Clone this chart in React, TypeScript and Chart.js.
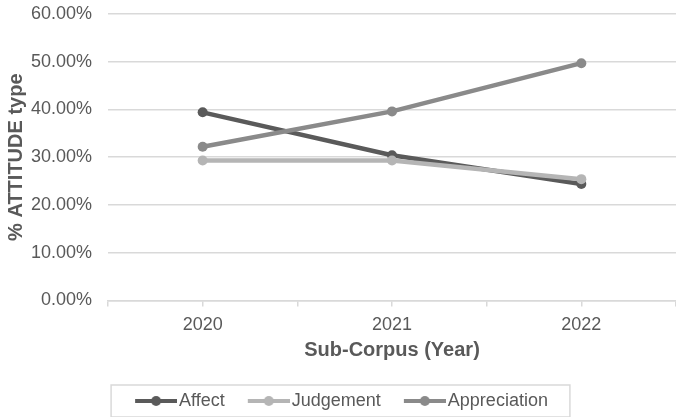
import React, { useEffect, useRef } from "react";
import { Chart, registerables } from "chart.js";

Chart.register(...registerables);

const years = ["2020", "2021", "2022"];
const affect = [39.4, 30.4, 24.4];
const judgement = [29.3, 29.3, 25.4];
const appreciation = [32.2, 39.6, 49.7];
const yTicks = [0, 10, 20, 30, 40, 50, 60];

const seriesNames = ["Affect", "Judgement", "Appreciation"];
const seriesColors = ["#5a5a5a", "#b5b5b5", "#8a8a8a"];

const FONT = "'Liberation Sans', Arial, sans-serif";
const TEXT = "#595959";
const GRID = "#d9d9d9";

function legendSwatch(color: string): HTMLCanvasElement {
  const c = document.createElement("canvas");
  c.width = 48;
  c.height = 14;
  const ctx = c.getContext("2d")!;
  ctx.strokeStyle = color;
  ctx.lineWidth = 4;
  ctx.beginPath();
  ctx.moveTo(6, 7);
  ctx.lineTo(48, 7);
  ctx.stroke();
  ctx.fillStyle = color;
  ctx.beginPath();
  ctx.arc(27, 7, 5, 0, Math.PI * 2);
  ctx.fill();
  return c;
}

const legendBoxPlugin = {
  id: "legendBox",
  afterDraw(chart: any) {
    const lg = chart.legend;
    if (!lg || !lg.legendHitBoxes || !lg.legendHitBoxes.length) return;
    const hb = lg.legendHitBoxes;
    const first = hb[0];
    const last = hb[hb.length - 1];
    const cy = first.top + first.height / 2;
    const left = first.left - 25;
    const right = last.left + last.width + 22;
    const ctx = chart.ctx;
    ctx.save();
    ctx.strokeStyle = GRID;
    ctx.lineWidth = 1.5;
    ctx.strokeRect(left, cy - 16, right - left, 32);
    ctx.restore();
  },
};

export default function App() {
  const ref = useRef<HTMLCanvasElement>(null);

  useEffect(() => {
    if (!ref.current) return;
    const series = [affect, judgement, appreciation];
    const swatches = seriesColors.map(legendSwatch);
    const chart = new Chart(ref.current, {
      type: "line",
      data: {
        datasets: series.map((vals, si) => ({
          label: seriesNames[si],
          data: vals.map((v, i) => ({ x: i, y: v })),
          borderColor: seriesColors[si],
          backgroundColor: seriesColors[si],
          pointBackgroundColor: seriesColors[si],
          pointBorderColor: seriesColors[si],
          borderWidth: 4.5,
          pointRadius: 5,
          pointBorderWidth: 0,
          tension: 0,
          order: 3 - si,
        })),
      },
      options: {
        responsive: false,
        animation: false,
        layout: { padding: { top: 14, left: 0, right: 0, bottom: -3 } },
        plugins: {
          tooltip: { enabled: false },
          legend: {
            position: "bottom",
            labels: {
              usePointStyle: true,
              pointStyleWidth: 34,
              padding: 24,
              color: TEXT,
              font: { family: FONT, size: 18 },
              generateLabels: (ch: any) => {
                const items = Chart.defaults.plugins.legend.labels.generateLabels(ch);
                return items
                  .sort((a: any, b: any) => a.datasetIndex - b.datasetIndex)
                  .map((it: any) => ({ ...it, pointStyle: swatches[it.datasetIndex] }));
              },
            },
          },
        },
        scales: {
          x: {
            type: "linear",
            min: -0.5,
            max: 2.5,
            border: { display: true, color: GRID, width: 1.5 },
            grid: {
              drawOnChartArea: false,
              drawTicks: true,
              tickLength: 6,
              color: GRID,
              lineWidth: 1.5,
            },
            ticks: {
              stepSize: 0.5,
              autoSkip: false,
              maxRotation: 0,
              padding: 8,
              color: TEXT,
              font: { family: FONT, size: 18 },
              callback: (v: any) => {
                const n = Number(v);
                return Number.isInteger(n) && years[n] ? years[n] : "";
              },
            },
            title: {
              display: true,
              text: "Sub-Corpus (Year)",
              color: TEXT,
              font: { family: FONT, size: 20, weight: "bold" },
              padding: { top: -6, bottom: 6 },
            },
          },
          y: {
            min: 0,
            max: 60,
            afterFit: (s: any) => {
              s.width = 108;
            },
            afterBuildTicks: (s: any) => {
              s.ticks = yTicks.map((v) => ({ value: v }));
            },
            border: { display: false },
            grid: {
              color: GRID,
              lineWidth: 1.5,
              drawTicks: true,
              tickLength: 16,
              tickColor: "rgba(0,0,0,0)",
            },
            ticks: {
              padding: 0,
              color: TEXT,
              font: { family: FONT, size: 18 },
              callback: (v: any) => Number(v).toFixed(2) + "%",
            },
            title: {
              display: true,
              text: "% ATTITUDE type",
              color: TEXT,
              font: { family: FONT, size: 20, weight: "bold" },
              padding: { top: 4, bottom: 0 },
            },
          },
        },
      },
      plugins: [legendBoxPlugin],
    } as any);
    return () => chart.destroy();
  }, []);

  return (
    <div
      style={{
        position: "fixed",
        left: 0,
        top: 0,
        width: 676,
        height: 417,
        overflow: "hidden",
        background: "#fff",
      }}
    >
      <canvas ref={ref} width={684} height={417} style={{ display: "block" }} />
    </div>
  );
}
